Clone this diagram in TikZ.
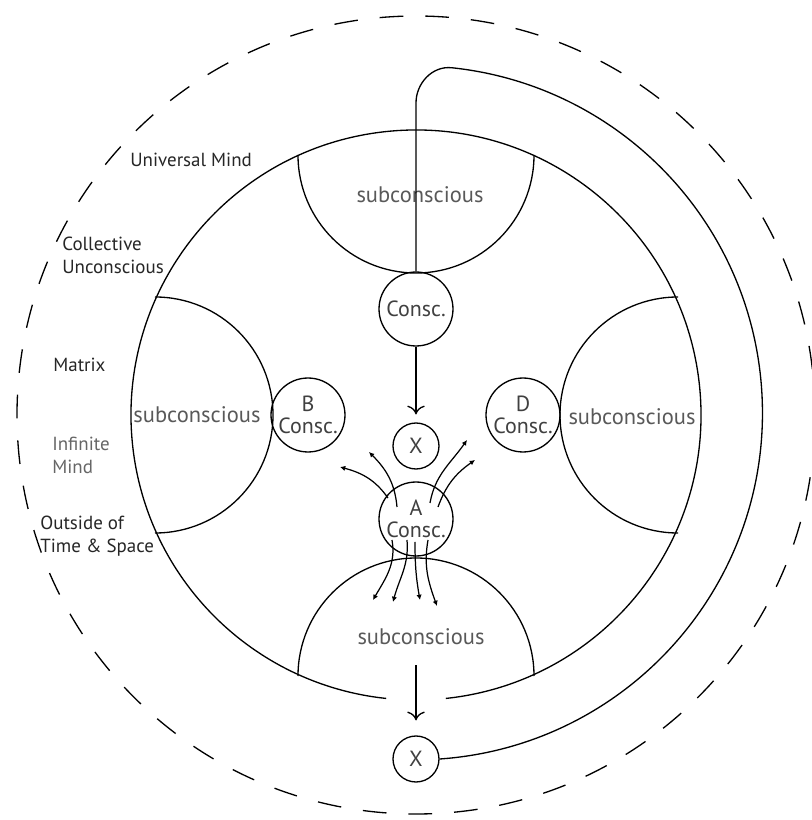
\documentclass[tikz,border=0pt]{standalone}
\usepackage{fontspec}
\setmainfont{PT Sans}
\usetikzlibrary{arrows.meta}

\begin{document}
\begin{tikzpicture}[x=0.02cm, y=0.02cm,
  consc/.style={circle, draw, line width=0.75pt, minimum size=1.48cm, inner sep=0pt, align=center, text=black!75, font=\fontsize{12.5}{12.5}\selectfont},
  xnode/.style={circle, draw, line width=0.75pt, minimum size=0.92cm, inner sep=0pt, text=black!75, font=\fontsize{12.5}{12.5}\selectfont},
  subtext/.style={text=black!65, font=\fontsize{12.8}{14}\selectfont},
  side/.style={anchor=west, align=left, inner sep=0pt, text=black!85, font=\fontsize{10.8}{13}\selectfont},
  flow/.style={line width=0.75pt, -{To[length=5pt, width=10pt]}},
  spray/.style={line width=0.7pt, -{Latex[length=3pt, width=3pt]}}
]
\useasboundingbox (-416,-405) rectangle (395,415);

%%%  nodes

% consciousness nodes
\node [consc] (top) at (0,106) {Consc.};
\node [consc] (b) at (-108,0) {B\\Consc.};
\node [consc] (d) at (107,0) {D\\Consc.};
\node [consc] (a) at (0,-104) {A\\Consc.};

% x nodes
\node [xnode] (x1) at (0,-31) {X};
\node [xnode] (x2) at (0,-344) {X};

% subconscious labels
\node [subtext] (subt) at (4,220) {subconscious};
\node [subtext] (subl) at (-219,0) {subconscious};
\node [subtext] (subr) at (216,-2) {subconscious};
\node [subtext] (subb) at (5,-222) {subconscious};

% side labels
\node [side] (um) at (-286,255) {Universal Mind};
\node [side] (cu) at (-354,160) {Collective\\Unconscious};
\node [side] (mx) at (-363,50) {Matrix};
\node [side, text=black!60] (im) at (-364,-40) {Infinite\\Mind};
\node [side] (ots) at (-376,-121) {Outside of\\Time \& Space};

\coordinate (bend) at (0,312);

%%% edges

% main circle, open at the bottom
\draw [line width=0.75pt] (-84:285) arc [start angle=-84, end angle=264, radius=285];

% outer dashed circle
\draw [line width=0.75pt, dash pattern=on 13.5pt off 12.5pt] (0,0) circle [radius=399];

% subconscious bowls
\draw [line width=0.75pt] (-118,260) arc [start angle=180, end angle=360, radius=118];
\draw [line width=0.75pt] (-261,118) arc [start angle=90, end angle=-90, radius=118];
\draw [line width=0.75pt] (262,118) arc [start angle=90, end angle=270, radius=118];
\draw [line width=0.75pt] (118,-261) arc [start angle=0, end angle=180, radius=118];

% loop back from the outer X
\draw [line width=0.75pt] (x2.east) arc [start angle=-86, end angle=84, radius=347]
  to [out=174, in=90] (bend) -- (top.north);

% flow
\draw [flow, shorten >=4.5pt] (top) -- (x1);
\draw [flow, shorten <=8pt, shorten >=8.5pt] (x2 |- subb.south) -- (x2);

% spray out of A, upwards
\draw [spray] ([shift={(-28,21)}]a.center) to [out=125, in=-15] ([shift={(-76,52)}]a.center);
\draw [spray] ([shift={(-19,12)}]a.center) to [out=95, in=-45] ([shift={(-47,67)}]a.center);
\draw [spray] ([shift={(14,16)}]a.center) to [out=80, in=-125] ([shift={(51,79)}]a.center);
\draw [spray] ([shift={(22,12)}]a.center) to [out=70, in=-145] ([shift={(59,59)}]a.center);

% spray out of A, downwards
\draw [spray] ([shift={(-24,-21)}]a.center) to [out=-80, in=60] ([shift={(-43,-81)}]a.center);
\draw [spray] ([shift={(-9,-21)}]a.center) to [out=-85, in=75] ([shift={(-23,-83)}]a.center);
\draw [spray] ([shift={(-1,-23)}]a.center) to [out=-90, in=100] ([shift={(4,-81)}]a.center);
\draw [spray] ([shift={(12,-21)}]a.center) to [out=-100, in=110] ([shift={(21,-87)}]a.center);
\end{tikzpicture}
\end{document}
